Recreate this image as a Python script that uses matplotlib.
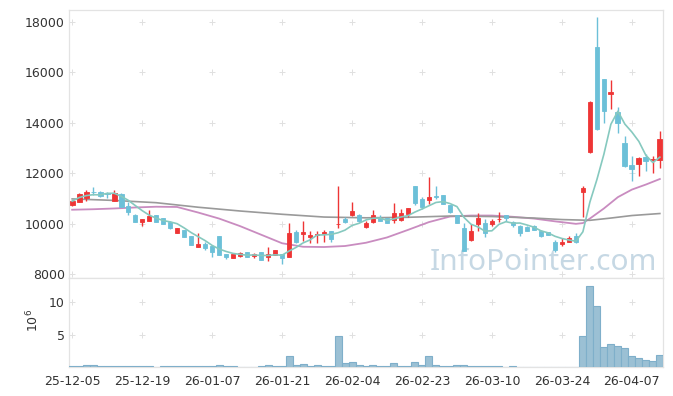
import numpy as np
import pandas as pd
import matplotlib
matplotlib.use("Agg")
import matplotlib.pyplot as plt

# ---------------- data ----------------
opens = [10740, 10870, 11030, 11270, 11250, 11210, 10910, 11175, 10710, 10340,
         10075, 10115, 10340, 10210, 10075, 9640, 9745, 9510, 9090, 9190,
         9125, 9510, 8790, 8650, 8715, 8860, 8715, 8860, 8660, 8750,
         8780, 8690, 9680, 9590, 9480, 9550, 9590, 9700, 9980, 10180,
         10340, 10340, 9880, 10075, 10235, 10210, 10140, 10140, 10380, 11490,
         10980, 10940, 11080, 11135, 10740, 10340, 9810, 9350, 9980, 10010,
         9985, 10170, 10340, 10075, 9920, 9880, 9920, 9710, 9650, 9280,
         9190, 9265, 9520, 11240, 12850, 17020, 15740, 15130, 14440, 13210,
         12325, 12380, 12655, 12540, 12520]
highs = [10930, 11220, 11330, 11460, 11300, 11250, 11330, 11200, 10870, 10380,
         10180, 10550, 10360, 10230, 10090, 9830, 9760, 9520, 9610, 9270,
         9140, 9520, 8800, 8800, 8880, 8870, 8820, 8870, 9060, 8960,
         8790, 10035, 9750, 10120, 9720, 9710, 9750, 9720, 11490, 10275,
         10860, 10400, 10110, 10540, 10340, 10220, 10820, 10580, 10620, 11500,
         11060, 11840, 11490, 11150, 10750, 10350, 10020, 9990, 10420, 10180,
         10180, 10470, 10350, 10090, 9930, 9900, 9930, 9760, 9660, 9350,
         9420, 9500, 9620, 11500, 14870, 18210, 15760, 15700, 14610, 13475,
         12694, 12640, 12770, 12700, 13660]
lows = [10700, 10850, 10900, 11130, 11060, 11000, 10900, 10650, 10350, 10050,
        9920, 10100, 10060, 9970, 9800, 9630, 9460, 9140, 9080, 8960,
        8690, 8740, 8600, 8640, 8680, 8680, 8650, 8540, 8530, 8740,
        8410, 8680, 9230, 9310, 9230, 9240, 9280, 9280, 9810, 10035,
        10290, 10050, 9810, 10040, 10110, 10020, 10030, 10120, 10250, 10750,
        10570, 10780, 10980, 10760, 10440, 10020, 8900, 9290, 9710, 9480,
        9920, 10050, 10100, 9880, 9520, 9710, 9730, 9480, 9530, 8870,
        9100, 9250, 9230, 10275, 12800, 13720, 14010, 14535, 13580, 12250,
        11700, 11900, 12070, 11990, 12190]
closes = [10890, 11175, 11265, 11260, 11110, 11190, 11200, 10670, 10470, 10075,
          10170, 10300, 10075, 9985, 9810, 9810, 9470, 9150, 9180, 9020,
          8860, 8750, 8660, 8790, 8830, 8690, 8810, 8555, 8790, 8950,
          8620, 9630, 9280, 9680, 9550, 9580, 9680, 9370, 10000, 10075,
          10500, 10115, 10035, 10340, 10115, 10035, 10410, 10410, 10610, 10830,
          10640, 11055, 11060, 10775, 10450, 10035, 8910, 9710, 10235, 9615,
          10100, 10190, 10235, 9945, 9640, 9720, 9745, 9520, 9550, 8950,
          9280, 9440, 9280, 11425, 14840, 13740, 14480, 15235, 14010, 12285,
          12166, 12615, 12485, 12560, 13360]
volume_m = [0.12, 0.12, 0.3, 0.3, 0.12, 0.12, 0.12, 0.12, 0.12, 0.12,
            0.12, 0.12, 0.0, 0.12, 0.12, 0.12, 0.12, 0.12, 0.12, 0.12,
            0.12, 0.3, 0.12, 0.12, 0.0, 0.0, 0.0, 0.12, 0.3, 0.12,
            0.12, 1.7, 0.3, 0.45, 0.12, 0.3, 0.12, 0.12, 4.8, 0.55,
            0.7, 0.3, 0.1, 0.3, 0.12, 0.12, 0.55, 0.12, 0.12, 0.75,
            0.3, 1.7, 0.3, 0.12, 0.12, 0.3, 0.3, 0.12, 0.12, 0.12,
            0.12, 0.12, 0.0, 0.12, 0.0, 0.0, 0.0, 0.0, 0.0, 0.0,
            0.0, 0.0, 0.0, 4.8, 12.5, 9.5, 3.1, 3.5, 3.3, 2.9,
            1.7, 1.4, 1.1, 0.9, 1.85]

# moving averages (index, value)
ma20_idx = [0, 3, 6, 9, 12, 15, 18, 21, 24, 27, 30, 33, 36, 39, 42, 45, 48, 51,
            54, 57, 60, 63, 66, 69, 72, 73, 74, 76, 78, 80, 82, 84]
ma20_val = [10550, 10570, 10600, 10640, 10670, 10660, 10440, 10200, 9900, 9560,
            9220, 9080, 9070, 9110, 9240, 9450, 9750, 10060, 10280, 10320,
            10320, 10270, 10200, 10090, 9990, 10020, 10200, 10600, 11050, 11350,
            11550, 11770]
ma60_idx = [0, 6, 12, 18, 24, 30, 36, 42, 48, 54, 60, 66, 70, 74, 77, 80, 84]
ma60_val = [10980, 10920, 10830, 10650, 10500, 10370, 10260, 10230, 10250, 10300,
            10280, 10220, 10160, 10130, 10220, 10320, 10400]

tick_pos = [0, 10, 20, 30, 40, 50, 60, 70, 80]
tick_labels = ['25-12-05', '25-12-19', '26-01-07', '26-01-21', '26-02-04',
               '26-02-23', '26-03-10', '26-03-24', '26-04-07']
price_ticks = [8000, 10000, 12000, 14000, 16000, 18000]
vol_ticks = [5, 10]

# ---------------- plot ----------------
plt.rcParams['font.family'] = ['DejaVu Sans']
W, H = 673, 396
fig = plt.figure(figsize=(W / 100, H / 100), dpi=100)
L, R = 69, 663
ax = fig.add_axes([L / W, 1 - 278 / H, (R - L) / W, (278 - 10) / H])
axv = fig.add_axes([L / W, 1 - 367 / H, (R - L) / W, (367 - 278) / H], sharex=ax)

o = np.array(opens, float)
h = np.array(highs, float)
lo = np.array(lows, float)
c = np.array(closes, float)
x = np.arange(len(o))
up_col = '#ee3535'
dn_col = '#6cc0d8'
cols = [up_col if cc >= oo else dn_col for oo, cc in zip(o, c)]

ax.vlines(x, lo, h, colors=cols, linewidth=1.0, zorder=3)
ax.bar(x, np.abs(c - o), bottom=np.minimum(o, c), width=0.68, color=cols,
       edgecolor=cols, linewidth=0.6, zorder=4)

ma5 = pd.Series(c).rolling(5, min_periods=1).mean()
ax.plot(x, ma5, color='#86c9bf', lw=1.2, zorder=5)
ax.plot(ma20_idx, ma20_val, color='#c98cc0', lw=1.3, zorder=2)
ax.plot(ma60_idx, ma60_val, color='#9a9a9a', lw=1.2, zorder=2)

ax.set_ylim(7840, 18480)
ax.set_xlim(-0.45, len(o) - 1 + 0.45)
ax.set_yticks(price_ticks)
ax.set_yticklabels([str(t) for t in price_ticks])

gx, gy = np.meshgrid(tick_pos, price_ticks)
ax.scatter(gx.ravel(), gy.ravel(), marker='+', s=20, color='#e0e0e0',
           linewidths=0.7, zorder=0)

ax.text(0.99, 0.03, 'InfoPointer.com', transform=ax.transAxes, ha='right',
        va='baseline', fontsize=21.5, family='Noto Sans', color='#b3cbdb',
        alpha=0.75, zorder=1)

# volume
axv.bar(x, volume_m, width=1.0, color='#9bc0d4', edgecolor='#7fafca',
        linewidth=0.8, zorder=3)
axv.set_ylim(0, max(volume_m) * 1.1)
axv.set_yticks(vol_ticks)
axv.set_yticklabels([str(t) for t in vol_ticks])
gx2, gy2 = np.meshgrid(tick_pos, vol_ticks)
axv.scatter(gx2.ravel(), gy2.ravel(), marker='+', s=20, color='#e0e0e0',
            linewidths=0.7, zorder=0)
axv.set_xticks(tick_pos)
axv.set_xticklabels(tick_labels)
fig.text(33 / W, 1 - 320 / H, '$10^{6}$', rotation=90, ha='center',
         va='center', fontsize=9, color='#333333')

for a in (ax, axv):
    for s in a.spines.values():
        s.set_color('#e3e3e3')
        s.set_linewidth(0.9)
    a.tick_params(length=0, labelsize=9, colors='#333333', pad=3)
ax.tick_params(axis='x', labelbottom=False)
axv.tick_params(axis='x', pad=6)

fig.savefig('out.png', dpi=100)
